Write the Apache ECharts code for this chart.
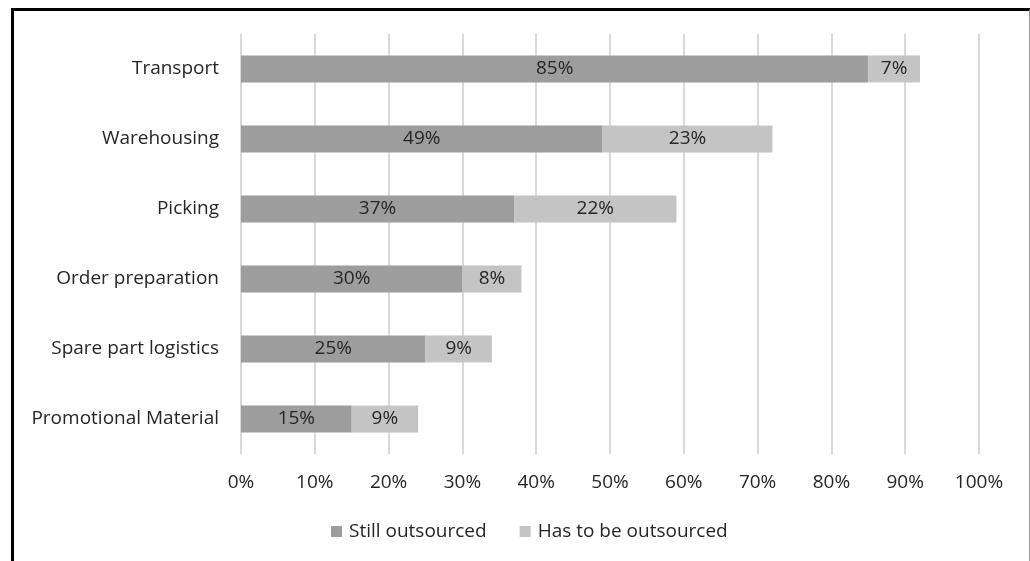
<!DOCTYPE html>
<html>
<head>
<meta charset="utf-8">
<script src="https://cdn.jsdelivr.net/npm/echarts@6/dist/echarts.min.js"></script>
<style>
  html, body { margin: 0; padding: 0; background: #fff; }
  #chart { width: 1030px; height: 561px; }
  .frame {
    position: absolute; left: 11px; top: 8px; width: 1015px; height: 560px;
    border-top: 3px solid #000; border-left: 3px solid #000; border-right: 1px solid #999;
    pointer-events: none;
  }
</style>
</head>
<body>
<div id="chart"></div>
<div class="frame"></div>
<script>
// categories, top to bottom
const categories = ['Transport', 'Warehousing', 'Picking', 'Order preparation', 'Spare part logistics', 'Promotional Material']
const stillOutsourced = [85, 49, 37, 30, 25, 15]
const hasToBeOutsourced = [7, 23, 22, 8, 9, 9]
const xTicks = [0, 10, 20, 30, 40, 50, 60, 70, 80, 90, 100]

const font = 'Open Sans'
const fontSize = 19
const textColor = '#262626'

function barLabel() {
  return {
    show: true,
    position: 'inside',
    formatter: p => p.value + '%',
    color: textColor,
    fontFamily: font,
    fontSize: fontSize
  }
}

let option = {
  animation: false,
  grid: { left: 241, right: 51, top: 34, height: 420, containLabel: false },
  legend: {
    bottom: 15,
    left: 326,
    itemWidth: 11,
    itemHeight: 11,
    itemGap: 33,
    icon: 'rect',
    textStyle: { color: textColor, fontFamily: font, fontSize: fontSize, padding: [0, 0, 0, 2] },
    data: ['Still outsourced', 'Has to be outsourced']
  },
  xAxis: {
    type: 'value',
    min: xTicks[0],
    max: xTicks[xTicks.length - 1],
    interval: 10,
    axisLine: { show: false },
    axisTick: { show: false },
    axisLabel: { formatter: '{value}%', color: textColor, fontFamily: font, fontSize: fontSize, margin: 19 },
    splitLine: { lineStyle: { color: '#d9d9d9', width: 2 } }
  },
  yAxis: {
    type: 'category',
    inverse: true,
    data: categories,
    axisLine: { show: false },
    axisTick: { show: false },
    axisLabel: { color: textColor, fontFamily: font, fontSize: fontSize, margin: 22 }
  },
  series: [
    {
      name: 'Still outsourced',
      type: 'bar',
      stack: 'total',
      barWidth: 27,
      data: stillOutsourced,
      itemStyle: { color: '#9d9d9d' },
      label: barLabel()
    },
    {
      name: 'Has to be outsourced',
      type: 'bar',
      stack: 'total',
      barWidth: 27,
      data: hasToBeOutsourced,
      itemStyle: { color: '#c4c4c4' },
      label: barLabel()
    }
  ]
}

const myChart = echarts.init(document.getElementById('chart'), null, { renderer: 'canvas' })
myChart.setOption(option)
</script>
</body>
</html>
